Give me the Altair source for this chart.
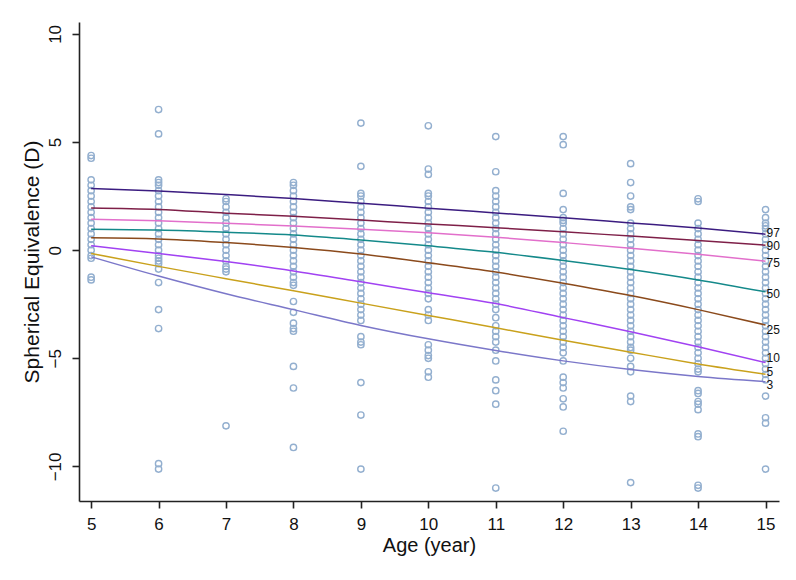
import altair as alt
import pandas as pd

# ---------------- data ----------------
ages = [5, 6, 7, 8, 9, 10, 11, 12, 13, 14, 15]

se_age5 = [4.375, 4.25, 3.25, 3.0, 2.75, 2.5, 2.25, 2.0, 1.75, 1.5, 1.25, 1.0, 0.75, 0.5, 0.25, 0.0,
           -0.25, -0.375, -1.25, -1.375]
se_age6 = [6.5, 5.375, 3.25, 3.125, 3.0, 2.75, 2.5, 2.25, 2.0, 1.75, 1.5, 1.25, 1.0, 0.75, 0.5, 0.25, 0.0,
           -0.25, -0.375, -0.5, -0.625, -0.875, -1.5, -2.75, -3.625, -9.875, -10.125]
se_age7 = [2.375, 2.25, 2.0, 1.75, 1.5, 1.25, 1.0, 0.75, 0.5, 0.25, 0.0, -0.25, -0.5, -0.75, -0.875,
           -1.0, -8.125]
se_age8 = [3.125, 3.0, 2.75, 2.5, 2.25, 2.0, 1.75, 1.5, 1.25, 1.0, 0.75, 0.5, 0.25, 0.0, -0.25, -0.5,
           -0.75, -1.0, -1.25, -1.5, -1.625, -2.375, -2.875, -3.375, -3.625, -3.75, -5.375, -6.375, -9.125]
se_age9 = [5.875, 3.875, 2.625, 2.5, 2.25, 2.0, 1.75, 1.5, 1.25, 1.0, 0.75, 0.5, 0.25, 0.0, -0.25, -0.5,
           -0.75, -1.0, -1.25, -1.5, -1.75, -2.0, -2.25, -2.5, -2.75, -3.0, -3.25, -4.0, -4.25, -4.375,
           -6.125, -7.625, -10.125]
se_age10 = [5.75, 3.75, 3.5, 2.625, 2.5, 2.25, 2.0, 1.75, 1.5, 1.25, 1.0, 0.75, 0.5, 0.25, 0.0, -0.25,
            -0.5, -0.75, -1.0, -1.25, -1.5, -1.75, -2.0, -2.25, -2.75, -3.0, -3.25, -4.375, -4.625,
            -4.875, -5.0, -5.625, -5.875]
se_age11 = [5.25, 3.625, 2.75, 2.5, 2.25, 2.0, 1.75, 1.5, 1.25, 1.0, 0.75, 0.5, 0.25, 0.0, -0.25, -0.5,
            -0.75, -1.0, -1.25, -1.5, -1.75, -2.0, -2.25, -2.5, -2.75, -3.125, -3.5, -3.75, -4.0, -4.25,
            -4.625, -5.125, -6.0, -6.5, -7.125, -11.0]
se_age12 = [5.25, 4.875, 2.625, 1.875, 1.5, 1.375, 1.25, 1.0, 0.75, 0.5, 0.25, 0.0, -0.25, -0.5, -0.75,
            -1.0, -1.25, -1.5, -1.75, -2.0, -2.25, -2.5, -2.75, -3.0, -3.25, -3.5, -3.75, -4.0, -4.25,
            -4.5, -4.75, -5.125, -5.875, -6.125, -6.375, -6.875, -7.25, -8.375]
se_age13 = [4.0, 3.125, 2.5, 2.0, 1.875, 1.25, 1.0, 0.75, 0.5, 0.25, 0.0, -0.25, -0.5, -0.75, -1.0,
            -1.25, -1.5, -1.75, -2.0, -2.25, -2.5, -2.75, -3.0, -3.25, -3.5, -3.75, -4.0, -4.25, -4.5,
            -4.625, -5.0, -5.375, -5.625, -6.75, -7.0, -10.75]
se_age14 = [2.375, 2.25, 1.25, 1.0, 0.75, 0.5, 0.25, 0.0, -0.25, -0.5, -0.75, -1.0, -1.25, -1.5, -1.75,
            -2.0, -2.25, -2.5, -2.75, -3.0, -3.25, -3.5, -3.75, -4.0, -4.25, -4.5, -4.75, -5.0, -5.25,
            -5.5, -5.625, -6.5, -6.625, -7.0, -7.125, -7.375, -8.5, -8.625, -10.875, -11.0]
se_age15 = [1.875, 1.5, 1.25, 1.125, 1.0, 0.75, 0.5, 0.25, 0.0, -0.25, -0.5, -0.75, -1.0, -1.25, -1.5,
            -1.75, -2.0, -2.25, -2.5, -2.75, -3.0, -3.25, -3.5, -3.75, -4.0, -4.25, -4.5, -4.75, -5.0,
            -5.25, -5.5, -5.75, -6.0, -6.75, -7.75, -8.0, -10.125]

percentiles = ["97", "90", "75", "50", "25", "10", "5", "3"]
p97 = [2.85, 2.73, 2.57, 2.39, 2.17, 1.94, 1.72, 1.50, 1.26, 1.02, 0.74]
p90 = [1.95, 1.88, 1.71, 1.57, 1.39, 1.21, 1.04, 0.85, 0.65, 0.45, 0.23]
p75 = [1.43, 1.36, 1.24, 1.12, 0.97, 0.80, 0.60, 0.35, 0.09, -0.19, -0.51]
p50 = [0.97, 0.93, 0.83, 0.70, 0.47, 0.20, -0.10, -0.48, -0.90, -1.38, -1.93]
p25 = [0.57, 0.52, 0.35, 0.12, -0.18, -0.58, -1.01, -1.53, -2.10, -2.75, -3.46]
p10 = [0.20, -0.15, -0.53, -0.96, -1.46, -1.97, -2.47, -3.12, -3.77, -4.47, -5.20]
p5 = [-0.15, -0.75, -1.32, -1.88, -2.45, -3.02, -3.59, -4.17, -4.72, -5.26, -5.74]
p3 = [-0.31, -1.20, -2.02, -2.75, -3.48, -4.10, -4.64, -5.12, -5.52, -5.84, -6.08]

label_y = [0.80, 0.20, -0.59, -2.03, -3.67, -4.97, -5.62, -6.25]
line_colors = ["#3b1c80", "#7e1f48", "#e26fcb", "#14898a", "#8b4a1c", "#a142f2", "#c9a11c", "#7b77c9"]

# ---------------- tables ----------------
se_lists = [se_age5, se_age6, se_age7, se_age8, se_age9, se_age10, se_age11, se_age12,
            se_age13, se_age14, se_age15]
pts = pd.DataFrame([{"age": a, "se": v} for a, lst in zip(ages, se_lists) for v in lst])

curves = [p97, p90, p75, p50, p25, p10, p5, p3]
lines = pd.DataFrame([{"age": a, "se": v, "pct": p}
                      for p, c in zip(percentiles, curves) for a, v in zip(ages, c)])
labels = pd.DataFrame({"age": [15] * len(percentiles), "se": label_y, "pct": percentiles})

xscale = alt.Scale(domain=[4.82, 15.2], nice=False, zero=False)
yscale = alt.Scale(domain=[-11.6, 10.55], nice=False, zero=False)

xaxis = alt.Axis(title="Age (year)", values=ages, format="d", grid=False,
                 labelFontSize=17, titleFontSize=20, labelPadding=8, titlePadding=3,
                 tickSize=7, labelFlush=False)
yaxis = alt.Axis(title="Spherical Equivalence (D)", values=[-10, -5, 0, 5, 10], format="d",
                 grid=False, labelAngle=270, labelFontSize=17, titleFontSize=21,
                 labelPadding=8, titlePadding=4, tickSize=7, labelAlign="center",
                 labelBaseline="bottom")

scatter = alt.Chart(pts).mark_point(
    shape="circle", filled=False, size=40, strokeWidth=1.4, color="#93afcf", opacity=1
).encode(
    x=alt.X("age:Q", scale=xscale, axis=xaxis),
    y=alt.Y("se:Q", scale=yscale, axis=yaxis),
)

curve = alt.Chart(lines).mark_line(strokeWidth=1.5, interpolate="monotone").encode(
    x=alt.X("age:Q", scale=xscale),
    y=alt.Y("se:Q", scale=yscale),
    color=alt.Color("pct:N", scale=alt.Scale(domain=percentiles, range=line_colors), legend=None),
    detail="pct:N",
)

text = alt.Chart(labels).mark_text(align="left", baseline="middle", dx=1, fontSize=12,
                                   color="#111111", font="Liberation Sans").encode(
    x=alt.X("age:Q", scale=xscale),
    y=alt.Y("se:Q", scale=yscale),
    text="pct:N",
)

chart = alt.layer(scatter, curve, text).properties(
    width=700, height=479,
    autosize=alt.AutoSizeParams(type="none"),
    padding={"left": 71, "top": 14, "right": 8, "bottom": 55},
    background="white",
).configure_view(stroke=None).configure_axis(
    domainColor="#222222", tickColor="#222222", domainWidth=1.6, tickWidth=1.6,
    labelColor="#111111", titleColor="#111111", labelFont="Liberation Sans",
    titleFont="Liberation Sans", titleFontWeight="normal",
)

chart.save("out.html", embed_options={"renderer": "svg", "actions": False})
